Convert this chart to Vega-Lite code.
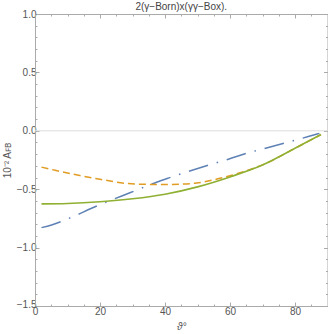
{
  "$schema": "https://vega.github.io/schema/vega-lite/v6.json",
  "width": 292.5,
  "height": 292,
  "autosize": {"type": "none"},
  "padding": {"left": 35, "top": 14, "right": 0.5, "bottom": 28},
  "background": "white",
  "title": {"text": "2(γ−Born)x(γγ−Box).", "fontSize": 10, "color": "#444", "font": "Liberation Sans", "fontWeight": "normal", "offset": 0, "dy": 3},
  "config": {
    "view": {"stroke": null},
    "axis": {
      "domainColor": "#aaaaaa",
      "tickColor": "#aaaaaa",
      "labelColor": "#555555",
      "labelFont": "Liberation Sans",
      "labelFontSize": 10,
      "titleFont": "Liberation Sans",
      "titleFontSize": 10,
      "titleColor": "#555555",
      "titleFontWeight": "normal",
      "grid": false
    }
  },
  "datasets": {
    "zero": [{"y": 0}],
    "blue": [
      {"x": 2, "y": -0.829}, {"x": 5.1, "y": -0.806}, {"x": 11.8, "y": -0.734}, {"x": 17.4, "y": -0.663},
      {"x": 23.1, "y": -0.597}, {"x": 29.2, "y": -0.531}, {"x": 37.4, "y": -0.44}, {"x": 41, "y": -0.405},
      {"x": 47.2, "y": -0.348}, {"x": 53, "y": -0.297}, {"x": 59.5, "y": -0.243}, {"x": 65.3, "y": -0.191},
      {"x": 71.8, "y": -0.143}, {"x": 77.9, "y": -0.097}, {"x": 84.1, "y": -0.049}, {"x": 87.5, "y": -0.022}
    ],
    "orange": [
      {"x": 2, "y": -0.311}, {"x": 6.2, "y": -0.338}, {"x": 13.8, "y": -0.383}, {"x": 20, "y": -0.415},
      {"x": 28.7, "y": -0.452}, {"x": 35, "y": -0.459}, {"x": 40, "y": -0.46}, {"x": 45, "y": -0.457},
      {"x": 49.7, "y": -0.447}, {"x": 55, "y": -0.42}, {"x": 60, "y": -0.385}, {"x": 65, "y": -0.342},
      {"x": 70, "y": -0.292}, {"x": 80, "y": -0.15}, {"x": 88, "y": -0.032}
    ],
    "green": [
      {"x": 2, "y": -0.626}, {"x": 10, "y": -0.622}, {"x": 20, "y": -0.607}, {"x": 30, "y": -0.582},
      {"x": 40, "y": -0.543}, {"x": 50, "y": -0.48}, {"x": 60, "y": -0.395}, {"x": 70, "y": -0.293},
      {"x": 80, "y": -0.15}, {"x": 88, "y": -0.032}
    ]
  },
  "resolve": {"axis": {"x": "independent", "y": "independent"}},
  "layer": [
    {
      "data": {"name": "zero"},
      "mark": {"type": "rule", "color": "#dddddd", "strokeWidth": 1},
      "encoding": {
        "y": {"field": "y", "type": "quantitative", "scale": {"domain": [-1.5, 1], "nice": false, "zero": false}, "axis": null}
      }
    },
    {
      "data": {"name": "blue"},
      "mark": {"type": "line", "color": "#5E81B5", "strokeWidth": 1.5, "strokeDash": [20, 9, 1.5, 9], "interpolate": "monotone"},
      "encoding": {
        "x": {"field": "x", "type": "quantitative", "scale": {"domain": [0, 90], "nice": false, "zero": false},
          "axis": {"orient": "bottom", "title": "ϑ°", "titleFontStyle": "italic", "titlePadding": 3,
            "values": [0,5,10,15,20,25,30,35,40,45,50,55,60,65,70,75,80,85,90],
            "labelExpr": "datum.value % 20 === 0 ? datum.label : ''",
            "tickSize": {"condition": {"test": "datum.value % 20 === 0", "value": -4}, "value": -2},
            "labelPadding": 4, "labelFlush": false, "labelOverlap": false}},
        "y": {"field": "y", "type": "quantitative", "scale": {"domain": [-1.5, 1], "nice": false, "zero": false},
          "axis": {"orient": "left", "title": "10⁻² Aꜰʙ", "titlePadding": 4,
            "values": [-1.5,-1.4,-1.3,-1.2,-1.1,-1.0,-0.9,-0.8,-0.7,-0.6,-0.5,-0.4,-0.3,-0.2,-0.1,0,0.1,0.2,0.3,0.4,0.5,0.6,0.7,0.8,0.9,1.0],
            "format": ".1f",
            "labelExpr": "abs(datum.value*2 - round(datum.value*2)) < 0.001 ? datum.label : ''",
            "tickSize": {"condition": {"test": "abs(datum.value*2 - round(datum.value*2)) < 0.001", "value": -4}, "value": -2},
            "labelOffset": {"condition": {"test": "datum.value < -1.45", "value": -2}, "value": 0},
            "labelPadding": 3, "labelOverlap": false, "labelFlush": false}}
      }
    },
    {
      "data": {"name": "orange"},
      "mark": {"type": "line", "color": "#E19C24", "strokeWidth": 1.5, "strokeDash": [7, 4], "interpolate": "monotone"},
      "encoding": {
        "x": {"field": "x", "type": "quantitative", "scale": {"domain": [0, 90], "nice": false, "zero": false},
          "axis": {"orient": "top", "title": null, "labels": false,
            "values": [0,5,10,15,20,25,30,35,40,45,50,55,60,65,70,75,80,85,90],
            "tickSize": {"condition": {"test": "datum.value % 20 === 0", "value": -4}, "value": -2}}},
        "y": {"field": "y", "type": "quantitative", "scale": {"domain": [-1.5, 1], "nice": false, "zero": false},
          "axis": {"orient": "right", "title": null, "labels": false,
            "values": [-1.5,-1.4,-1.3,-1.2,-1.1,-1.0,-0.9,-0.8,-0.7,-0.6,-0.5,-0.4,-0.3,-0.2,-0.1,0,0.1,0.2,0.3,0.4,0.5,0.6,0.7,0.8,0.9,1.0],
            "tickSize": {"condition": {"test": "abs(datum.value*2 - round(datum.value*2)) < 0.001", "value": -4}, "value": -2}}}
      }
    },
    {
      "data": {"name": "green"},
      "mark": {"type": "line", "color": "#8FB032", "strokeWidth": 1.6, "interpolate": "monotone"},
      "encoding": {
        "x": {"field": "x", "type": "quantitative", "scale": {"domain": [0, 90], "nice": false, "zero": false}, "axis": null},
        "y": {"field": "y", "type": "quantitative", "scale": {"domain": [-1.5, 1], "nice": false, "zero": false}, "axis": null}
      }
    }
  ]
}
